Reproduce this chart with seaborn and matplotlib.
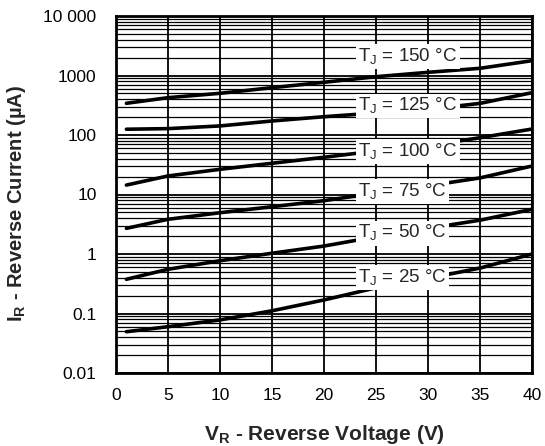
import numpy as np
import pandas as pd
import matplotlib
matplotlib.use("Agg")
import matplotlib.pyplot as plt
import seaborn as sns
from matplotlib.ticker import FixedLocator, FixedFormatter, LogLocator, NullFormatter

# ---- data ----
voltage = [1, 5, 10, 15, 20, 25, 30, 35, 40]
temps = ["150", "125", "100", "75", "50", "25"]
ir_150 = [341, 424, 502, 624, 769, 955, 1130, 1321, 1774]
ir_125 = [125, 128, 142, 172, 203, 235, 270, 340, 514]
ir_100 = [14.4, 20.5, 26.5, 33.5, 42.2, 54, 66, 90, 126]
ir_75 = [2.70, 3.83, 4.94, 6.23, 7.87, 10.6, 14, 19, 30.1]
ir_50 = [0.376, 0.553, 0.771, 1.03, 1.36, 1.95, 2.7, 3.7, 5.64]
ir_25 = [0.0494, 0.060, 0.078, 0.111, 0.169, 0.27, 0.39, 0.58, 1.0]
label_x = 23.3
label_y = [2070, 307, 52.4, 11.1, 2.23, 0.40]
ytick_vals = [0.01, 0.1, 1, 10, 100, 1000, 10000]
ytick_labels = ["0.01", "0.1", "1", "10", "100", "1000", "10 000"]
xtick_vals = [0, 5, 10, 15, 20, 25, 30, 35, 40]

series = [ir_150, ir_125, ir_100, ir_75, ir_50, ir_25]
df = pd.DataFrame({
    "V": np.tile(voltage, len(temps)),
    "I": np.concatenate(series),
    "T": np.repeat(temps, len(voltage)),
})

sns.set_theme(style="white")
plt.rcParams["font.family"] = ["Liberation Sans", "DejaVu Sans"]
plt.rcParams["mathtext.fontset"] = "custom"
plt.rcParams["mathtext.rm"] = "Liberation Sans"
plt.rcParams["mathtext.bf"] = "Liberation Sans:bold"

fig = plt.figure(figsize=(5.45, 4.46), dpi=100)
ax = fig.add_axes([116/545, 1-373/446, (532-116)/545, (373-16)/446])

ax.set_yscale("log")
ax.set_xlim(0, 40)
ax.set_ylim(0.01, 10000)

# grid
ax.yaxis.set_major_locator(FixedLocator(ytick_vals))
ax.yaxis.set_major_formatter(FixedFormatter(ytick_labels))
ax.yaxis.set_minor_locator(LogLocator(base=10, subs=np.arange(2, 10)))
ax.yaxis.set_minor_formatter(NullFormatter())
ax.xaxis.set_major_locator(FixedLocator(xtick_vals))
ax.grid(True, which="major", axis="both", color="black", lw=1.3, zorder=1)
ax.grid(True, which="minor", axis="y", color="black", lw=0.9, zorder=1)
ax.set_axisbelow(True)

sns.lineplot(data=df, x="V", y="I", hue="T", palette=["black"] * len(temps),
             lw=2.6, legend=False, ax=ax, zorder=3)
for line in ax.lines:
    line.set_solid_capstyle("round")

for t, ly in zip(temps, label_y):
    ax.text(label_x, ly, r"T$_\mathregular{J}$ = " + t + " °C", fontsize=13.5,
            ha="left", va="center", zorder=5,
            bbox=dict(boxstyle="square,pad=0.12", fc="white", ec="none"))

for s in ax.spines.values():
    s.set_color("black")
    s.set_linewidth(2)
    s.set_zorder(6)

ax.tick_params(axis="both", which="both", length=0, labelsize=12.5, colors="black")
ax.tick_params(axis="y", pad=14)
ax.tick_params(axis="x", pad=11)

ax.set_xlabel(r"V$_\mathregular{R}$ - Reverse Voltage (V)", fontsize=15,
              fontweight="bold", labelpad=14)
ax.set_ylabel(r"I$_\mathregular{R}$ - Reverse Current (µA)", fontsize=14.5,
              fontweight="bold")
ax.yaxis.set_label_coords(-0.212, 0.475)

fig.savefig("out.png", dpi=100)
